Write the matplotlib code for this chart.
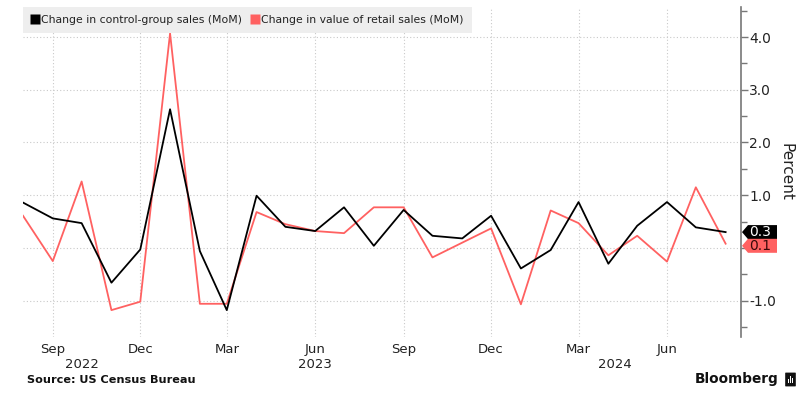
import numpy as np
import pandas as pd
import matplotlib
matplotlib.use('Agg')
import matplotlib.pyplot as plt
import matplotlib.dates as mdates
from matplotlib.lines import Line2D
from matplotlib.patches import FancyBboxPatch, Rectangle, Polygon

plt.rcParams['font.family'] = ['DejaVu Sans']

# monthly data, Aug 2022 .. Aug 2024
months = pd.date_range('2022-08-01', periods=25, freq='MS')
control = [0.86, 0.56, 0.47, -0.66, -0.03, 2.63, -0.06, -1.18, 0.99, 0.40,
           0.32, 0.77, 0.04, 0.72, 0.23, 0.18, 0.61, -0.39, -0.04, 0.87,
           -0.30, 0.42, 0.87, 0.39, 0.30]
retail = [0.61, -0.25, 1.26, -1.18, -1.02, 4.07, -1.06, -1.06, 0.68, 0.45,
          0.32, 0.28, 0.77, 0.77, -0.18, 0.10, 0.37, -1.07, 0.71, 0.47,
          -0.14, 0.23, -0.26, 1.15, 0.08]
series_names = ['Change in control-group sales (MoM)',
                'Change in value of retail sales (MoM)']
year_labels = ['2022', '2023', '2024']
year_pos = ['2022-10-01', '2023-06-01', '2024-04-08']

BLACK = '#000000'
RED = '#ff6161'
GRID = '#c9c9c9'

fig = plt.figure(figsize=(8.11, 4.07), dpi=100)
ax = fig.add_axes([23 / 811, 1 - 337 / 407, (741 - 23) / 811, 330 / 407])

ax.plot(months, control, color=BLACK, lw=1.3, zorder=4)
ax.plot(months, retail, color=RED, lw=1.3, zorder=3)

ax.set_xlim(pd.Timestamp('2022-08-01'), pd.Timestamp('2024-08-17'))
ax.set_ylim(-1.69, 4.57)

# x axis: quarterly month ticks
ax.xaxis.set_major_locator(mdates.MonthLocator(bymonth=[3, 6, 9, 12]))
ax.xaxis.set_major_formatter(mdates.DateFormatter('%b'))
ax.tick_params(axis='x', length=0, pad=4, labelsize=9.5, labelcolor='#222222')
xt = ax.get_xaxis_transform()
for lab, pos in zip(year_labels, year_pos):
    ax.text(mdates.date2num(pd.Timestamp(pos)), -0.082, lab, transform=xt,
            ha='center', va='center', fontsize=9.5, color='#222222')

# y axis on the right
ax.yaxis.tick_right()
ax.set_yticks([-1, 0, 1, 2, 3, 4])
ax.set_yticklabels(['-1.0', '', '1.0', '2.0', '3.0', '4.0'])
ax.set_yticks(np.arange(-1.5, 4.6, 1.0), minor=True)
ax.tick_params(axis='y', which='major', direction='out', length=5, width=1,
               color='#777777', pad=1, labelsize=10, labelcolor='#222222')
ax.tick_params(axis='y', which='minor', direction='out', length=4, width=1,
               color='#777777')
for s in ['left', 'top', 'bottom']:
    ax.spines[s].set_visible(False)
ax.spines['right'].set_color('#777777')
ax.spines['right'].set_linewidth(1.2)

ax.grid(True, which='major', color=GRID, lw=0.8, linestyle=(0, (1, 2)))
ax.set_axisbelow(True)

# legend
handles = [Line2D([], [], marker='s', color='none', markerfacecolor=BLACK,
                  markeredgecolor='none', markersize=7),
           Line2D([], [], marker='s', color='none', markerfacecolor=RED,
                  markeredgecolor='none', markersize=7)]
leg = ax.legend(handles, series_names, loc='upper left', bbox_to_anchor=(0, 1),
                ncol=2, fontsize=7.8, frameon=True, fancybox=False,
                borderaxespad=0, handlelength=0.7, handletextpad=0.2,
                columnspacing=0.9, borderpad=0.75)
leg.get_frame().set_facecolor('#eeeeee')
leg.get_frame().set_edgecolor('none')
leg.get_frame().set_alpha(1)
for t in leg.get_texts():
    t.set_color('#222222')

# last value tags (pentagon pointing at the axis)
yt = ax.get_yaxis_transform()
px = 1 / 718          # one pixel in axes fraction
h = 7 / 52.7          # half tag height in data units
tag_y = [control[-1], control[-1] - 0.26]
tag_col = [BLACK, RED]
tag_txt = ['%.1f' % control[-1], '%.1f' % retail[-1]]
tag_fg = ['white', '#3a0a0a']
for y, c, s, fg in zip(tag_y, tag_col, tag_txt, tag_fg):
    poly = Polygon([(1 + 1 * px, y), (1 + 7 * px, y + h), (1 + 36 * px, y + h),
                    (1 + 36 * px, y - h), (1 + 7 * px, y - h)],
                   closed=True, transform=yt, fc=c, ec='none', clip_on=False,
                   zorder=6)
    ax.add_patch(poly)
    ax.text(1 + 8 * px, y, s, transform=yt, ha='left', va='center',
            fontsize=10, color=fg, clip_on=False, zorder=7)

fig.text(786 / 811, 1 - 172 / 407, 'Percent', rotation=270, ha='center',
         va='center', fontsize=11, color='#222222')

fig.text(27 / 811, 1 - 380 / 407, 'Source: US Census Bureau', ha='left',
         va='center', fontsize=8.1, fontweight='bold', color='#111111')
fig.text(778 / 811, 1 - 379 / 407, 'Bloomberg', ha='right', va='center',
         fontsize=9.8, fontweight='bold', color='#111111')
icon = FancyBboxPatch((786 / 811, 1 - 386 / 407), 9 / 811, 13 / 407,
                      boxstyle='round,pad=0.001', transform=fig.transFigure,
                      fc='#111111', ec='none')
fig.patches.append(icon)
for i, hh in enumerate([4, 7, 5]):
    fig.patches.append(Rectangle(((788 + i * 2) / 811, 1 - 383 / 407), 1 / 811,
                                 hh / 407, transform=fig.transFigure,
                                 fc='white', ec='none'))

fig.savefig('out.png', dpi=100)
